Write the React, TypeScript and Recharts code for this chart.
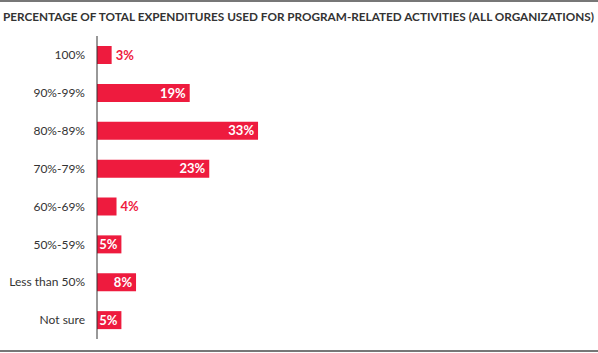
import { Bar, BarChart, LabelList, XAxis, YAxis } from 'recharts'

const categories = ['100%', '90%-99%', '80%-89%', '70%-79%', '60%-69%', '50%-59%', 'Less than 50%', 'Not sure']
const shares = [3, 19, 33, 23, 4, 5, 8, 5]

const TITLE = 'PERCENTAGE OF TOTAL EXPENDITURES USED FOR PROGRAM-RELATED ACTIVITIES (ALL ORGANIZATIONS)'
const RED = '#ee1b3e'
const FONT = 'Lato, "Open Sans", sans-serif'

const data = categories.map((c, i) => ({ cat: c, pct: shares[i] }))

// labels sit inside the bar when there is room, otherwise just past its end
function ValueLabel(props: any) {
  const { x, y, width, height, value } = props
  const inside = value >= 5
  return (
    <text
      x={inside ? x + width - 4 : x + width + 4}
      y={y + height / 2}
      dy="0.36em"
      textAnchor={inside ? 'end' : 'start'}
      fill={inside ? '#fff' : RED}
      fontFamily={FONT}
      fontWeight={700}
      fontSize={13}
    >
      {value}%
    </text>
  )
}

export default function App() {
  return (
    <div style={{ position: 'absolute', left: 0, top: 0, width: 598, height: 353, background: '#fff' }}>
      <div style={{ position: 'absolute', left: 0, top: 0, width: 598, height: 2, background: '#777' }} />
      <div style={{ position: 'absolute', left: 0, top: 350, width: 598, height: 2, background: '#777' }} />
      <svg width={598} height={32} style={{ position: 'absolute', left: 0, top: 0 }}>
        <text
          x={3}
          y={21}
          textLength={591}
          lengthAdjust="spacingAndGlyphs"
          fontFamily={FONT}
          fontWeight={700}
          fontSize={11.6}
          fill="#333"
        >
          {TITLE}
        </text>
      </svg>
      <BarChart
        width={598}
        height={353}
        data={data}
        layout="vertical"
        margin={{ top: 36, right: 13, bottom: 14, left: 0 }}
        barSize={18}
      >
        <XAxis type="number" domain={[0, 100]} hide />
        <YAxis
          type="category"
          dataKey="cat"
          width={97}
          tickLine={false}
          tickSize={6}
          tickMargin={6}
          axisLine={{ stroke: '#333', strokeWidth: 1 }}
          tick={{ fontSize: 12, fill: '#333', fontFamily: FONT }}
          interval={0}
        />
        <Bar dataKey="pct" fill={RED} isAnimationActive={false}>
          <LabelList dataKey="pct" content={ValueLabel} />
        </Bar>
      </BarChart>
    </div>
  )
}
